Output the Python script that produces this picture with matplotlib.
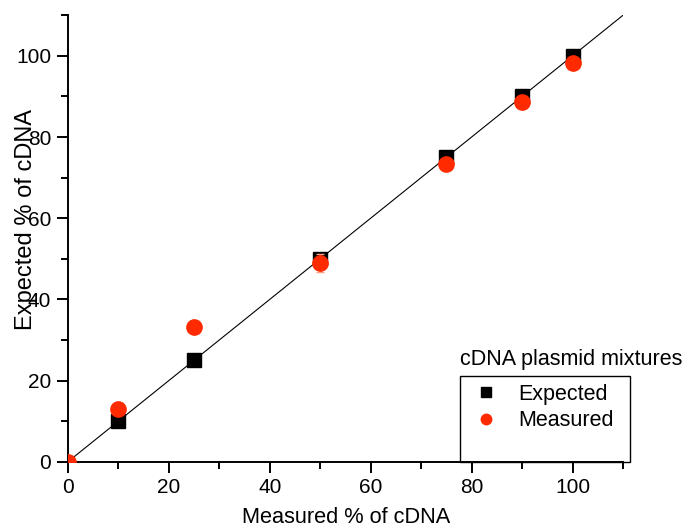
import numpy as np
import matplotlib.pyplot as plt
from matplotlib.patches import Rectangle
from matplotlib.lines import Line2D
from matplotlib.ticker import MultipleLocator

plt.rcParams['font.family'] = ['Liberation Sans', 'DejaVu Sans']

# cDNA plasmid mixtures
pct = [0, 10, 25, 50, 75, 90, 100]
expected = [0, 10, 25, 50, 75, 90, 100]
measured = [0, 12.9, 33.2, 48.9, 73.4, 88.6, 98.2]
measured_err = [0, 0.5, 0.5, 2.2, 0.8, 0.5, 0.5]
fit_x = [0, 110]
fit_y = [0, 110]

red = '#ff2a00'

fig = plt.figure(figsize=(6.86, 5.27), dpi=100)
ax = fig.add_axes([0.0991, 0.1239, 0.8090, 0.8471])

ax.plot(fit_x, fit_y, color='black', lw=0.8, zorder=1)
ax.plot(pct[1:], expected[1:], 's', color='black', ms=9.5, zorder=2)
ax.errorbar(pct, measured, yerr=measured_err, fmt='o', color=red,
            ecolor='#ff9a88', elinewidth=1, capsize=3, ms=11, zorder=3)

ax.set_xlim(0, 110)
ax.set_ylim(0, 110)
for s in ('top', 'right'):
    ax.spines[s].set_visible(False)
for s in ('left', 'bottom'):
    ax.spines[s].set_linewidth(1.4)

ax.xaxis.set_major_locator(MultipleLocator(20))
ax.xaxis.set_minor_locator(MultipleLocator(10))
ax.yaxis.set_major_locator(MultipleLocator(20))
ax.yaxis.set_minor_locator(MultipleLocator(10))
ax.tick_params(which='major', length=8, width=1.4, labelsize=15, pad=4)
ax.tick_params(which='minor', length=5, width=1.4)

# axis titles sit close to the figure edges, so place them directly
fig.text(346 / 686, 1 - 523 / 527, 'Measured % of cDNA', fontsize=15.7,
         ha='center', va='baseline')
fig.text(32 / 686, 1 - 219 / 527, 'Expected % of cDNA', fontsize=17,
         ha='center', va='baseline', rotation=90, rotation_mode='anchor')

handles = [Line2D([], [], marker='s', ls='none', color='black', ms=6.5),
           Line2D([], [], marker='o', ls='none', color=red, ms=7.5)]
leg = ax.legend(handles, ['Expected', 'Measured'], loc='upper left',
                bbox_to_anchor=(0.73, 0.174), frameon=False, fontsize=15.5,
                handletextpad=0.9, handlelength=1.2, labelspacing=0.25,
                borderaxespad=0, borderpad=0)

ax.text(0.706, 0.228, 'cDNA plasmid mixtures', transform=ax.transAxes,
        fontsize=15.5, ha='left', va='center')
ax.add_patch(Rectangle((0.706, 0.0), 0.307, 0.193, transform=ax.transAxes,
                       fill=False, edgecolor='black', lw=1, clip_on=False,
                       zorder=4))

fig.savefig('out.png', dpi=100)
